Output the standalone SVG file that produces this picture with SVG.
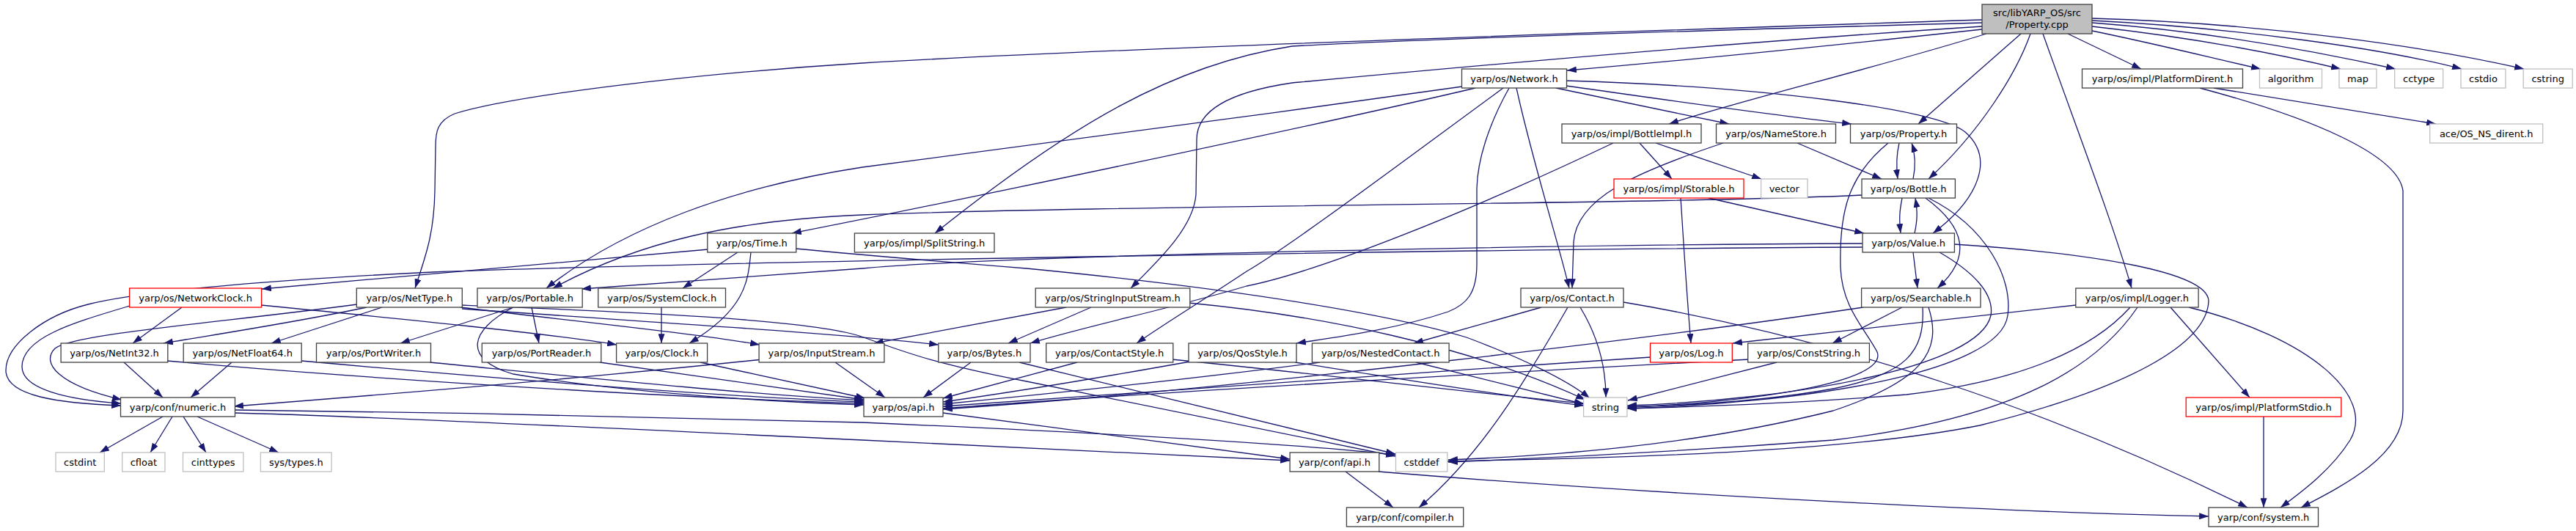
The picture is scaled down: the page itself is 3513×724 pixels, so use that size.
<svg xmlns="http://www.w3.org/2000/svg" width="3513" height="724" viewBox="0 0 3513 724">
<style>
rect{fill:#fff;stroke:#404040;stroke-width:1.3}
.r rect{stroke:#ff0000}
.g rect{stroke:#bfbfbf}
.root rect{fill:#bfbfbf}
text{font-family:"DejaVu Sans","Liberation Sans",sans-serif;font-size:13px;text-anchor:middle;fill:#000}
#edges path{fill:none;stroke:#191970;stroke-width:1.3;marker-end:url(#a)}
</style>
<defs>
<marker id="a" viewBox="0 0 10 7" refX="10" refY="3.5" markerWidth="13" markerHeight="9" markerUnits="userSpaceOnUse" orient="auto"><path d="M0,0 L10,3.5 L0,7 z" fill="#191970"/></marker>
</defs>
<rect x="0" y="0" width="3513" height="724" style="fill:#fff;stroke:none"/>
<g id="edges">
<path d="M2703,27 C2300,40 1500,66 1176,86 C950,100 700,130 620,155 C596,165 594,180 594,200 L593,260 C592,320 580,350 566,393"/>
<path d="M2703,31 C2300,42 1900,55 1762,63 C1600,88 1460,170 1275,318"/>
<path d="M2703,36 C2300,62 1900,100 1762,113 C1680,125 1632,150 1632,190 L1631,265 C1628,310 1580,355 1542,393"/>
<path d="M2703,40 C2500,62 2300,82 2137,96"/>
<path d="M2709,46 C2550,95 2380,135 2276,169"/>
<path d="M2756,46 L2616,169"/>
<path d="M2769,46 C2750,100 2700,180 2630,244"/>
<path d="M2786,46 C2830,170 2880,300 2907,393"/>
<path d="M2820,46 L2920,94"/>
<path d="M2853,42 C2950,62 3020,80 3083,94"/>
<path d="M2853,36 C2980,50 3100,72 3192,94"/>
<path d="M2853,31 C3000,42 3150,68 3267,94"/>
<path d="M2853,28 C3050,38 3250,66 3357,94"/>
<path d="M2853,25 C3100,32 3320,66 3442,94"/>
<path d="M1994,118 C1700,160 1300,212 1176,228 C1000,255 850,310 745,393"/>
<path d="M2012,120 C1800,170 1300,275 1080,318"/>
<path d="M2050,120 C1900,230 1760,335 1700,370 C1640,410 1590,440 1550,468"/>
<path d="M2058,120 C2030,170 2014,220 2014,260 L2014,360 C2014,400 2000,415 1975,425 C1900,450 1820,460 1768,468"/>
<path d="M2068,120 C2090,220 2125,330 2140,393"/>
<path d="M2122,120 L2358,169"/>
<path d="M2136,117 C2250,133 2400,155 2525,169"/>
<path d="M2136,110 C2400,118 2640,148 2680,180 C2720,215 2700,270 2636,318"/>
<path d="M2236,195 L2280,244"/>
<path d="M2258,195 L2402,244"/>
<path d="M2200,195 C2000,290 1800,370 1700,390 C1600,420 1480,445 1405,468"/>
<path d="M2451,195 L2566,244"/>
<path d="M2350,195 C2230,235 2150,270 2146,330 L2144,393"/>
<path d="M2590,195 C2586,212 2586,228 2588,244"/>
<path d="M2575,195 C2520,240 2508,290 2510,365 C2512,420 2545,450 2560,480 C2575,520 2400,548 2219,555"/>
<path d="M2609,244 C2613,225 2612,210 2607,195"/>
<path d="M2594,270 C2590,290 2590,300 2592,318"/>
<path d="M2539,266 C2300,278 1500,280 1176,293 C1000,300 870,330 754,393"/>
<path d="M2626,270 C2680,310 2690,350 2642,393"/>
<path d="M2630,270 C2710,310 2745,380 2738,430 C2728,510 2450,550 2219,557"/>
<path d="M2330,270 L2542,318"/>
<path d="M2292,270 C2296,330 2300,400 2306,468"/>
<path d="M2611,318 C2615,300 2615,288 2612,270"/>
<path d="M2609,344 L2615,393"/>
<path d="M2540,332 C2200,333 1400,346 1176,366 C1000,378 860,388 793,394"/>
<path d="M2540,337 C2000,340 1000,356 590,371 C400,380 200,395 120,415 C60,430 8,470 8,505 C8,540 80,550 165,553"/>
<path d="M2645,344 C2690,370 2720,400 2715,430 C2700,500 2450,545 2219,553"/>
<path d="M2665,333 C2850,345 3010,370 3012,410 C3010,470 2900,530 2700,580 C2500,620 2150,625 1974,629"/>
<path d="M966,340 C800,356 500,380 357,394"/>
<path d="M1006,344 L931,393"/>
<path d="M1024,344 C1020,380 1020,420 940,468"/>
<path d="M1085,339 C1200,350 1300,358 1400,366 C1700,395 1900,430 2000,460 C2080,490 2140,520 2168,543"/>
<path d="M248,419 L181,468"/>
<path d="M177,417 C100,440 30,460 30,500 C30,530 90,545 165,550"/>
<path d="M356,416 C550,435 750,455 841,470"/>
<path d="M487,415 C300,440 100,455 75,475 C55,495 80,525 166,545"/>
<path d="M500,419 C400,440 300,455 223,468"/>
<path d="M521,419 L370,468"/>
<path d="M628,419 C800,440 950,455 1036,470"/>
<path d="M630,421 C900,440 1150,455 1280,470"/>
<path d="M630,416 C850,425 1100,435 1172,458 C1230,478 1260,493 1400,520 C1600,560 1800,600 1903,622"/>
<path d="M700,419 L546,468"/>
<path d="M725,419 L735,468"/>
<path d="M700,419 C640,450 630,490 700,510 C850,535 1050,548 1178,552"/>
<path d="M902,419 L902,468"/>
<path d="M1454,419 L1192,468"/>
<path d="M1488,419 L1375,468"/>
<path d="M1621,413 C1800,430 2000,470 2162,545"/>
<path d="M2102,419 L1928,468"/>
<path d="M2155,419 C2180,460 2190,500 2190,542"/>
<path d="M2138,419 C2080,520 2020,620 1935,692"/>
<path d="M2214,412 C2500,460 2800,560 3065,692"/>
<path d="M2594,419 L2499,468"/>
<path d="M2541,419 C2300,455 1700,530 1286,558"/>
<path d="M2622,419 C2625,480 2600,510 2500,530 C2400,548 2300,553 2219,555"/>
<path d="M2630,419 C2650,480 2620,520 2500,560 C2300,610 2100,622 1975,627"/>
<path d="M2831,416 L2363,468"/>
<path d="M2905,419 C2850,480 2750,520 2600,538 C2450,550 2300,555 2219,557"/>
<path d="M2960,419 L3068,542"/>
<path d="M2985,419 C3150,460 3240,540 3205,600 C3180,640 3140,670 3110,692"/>
<path d="M2915,419 C2860,500 2750,570 2500,600 C2300,615 2100,625 1975,630"/>
<path d="M3019,120 L3322,169"/>
<path d="M3000,120 C3150,160 3270,210 3277,260 L3277,560 C3277,620 3200,660 3138,692"/>
<path d="M169,494 L222,542"/>
<path d="M228,492 C600,525 1000,545 1178,550"/>
<path d="M316,494 L260,542"/>
<path d="M411,492 C700,518 1000,542 1178,548"/>
<path d="M586,494 C800,515 1000,536 1178,546"/>
<path d="M818,494 L1178,545"/>
<path d="M955,494 L1180,543"/>
<path d="M1040,490 C800,515 500,540 319,554"/>
<path d="M1139,494 L1207,542"/>
<path d="M1324,494 L1259,542"/>
<path d="M1390,494 C1600,545 1800,595 1903,619"/>
<path d="M1469,494 L1286,543"/>
<path d="M1598,490 C1800,510 2000,535 2160,550"/>
<path d="M1623,493 C1500,515 1380,535 1286,548"/>
<path d="M1766,494 C1900,515 2050,540 2160,553"/>
<path d="M1800,494 C1600,520 1400,540 1286,551"/>
<path d="M1931,494 L2160,551"/>
<path d="M2251,487 C1900,510 1500,540 1286,554"/>
<path d="M2423,494 L2220,546"/>
<path d="M2386,490 C2000,510 1500,540 1286,557"/>
<path d="M1286,563 C1450,585 1650,610 1759,626"/>
<path d="M222,568 L136,617"/>
<path d="M235,568 L205,617"/>
<path d="M250,568 L281,617"/>
<path d="M269,568 L380,617"/>
<path d="M320,563 C500,567 1000,592 1176,600 C1450,612 1650,622 1759,628"/>
<path d="M320,559 C600,562 1000,570 1176,576 C1450,588 1750,603 1903,620"/>
<path d="M1835,643 L1900,692"/>
<path d="M1880,643 C2300,678 2800,700 3012,704"/>
<path d="M3087,568 L3087,692"/>
</g>
<g id="n_root" class="root"><rect x="2703" y="6" width="150" height="40"/><text x="2778" y="22">src/libYARP_OS/src</text><text x="2778" y="38">/Property.cpp</text></g>
<g id="n_network"><rect x="1993.5" y="94" width="143" height="26"/><text x="2065" y="111.5">yarp/os/Network.h</text></g>
<g id="n_platformdirent"><rect x="2839.5" y="94" width="219" height="26"/><text x="2949" y="111.5">yarp/os/impl/PlatformDirent.h</text></g>
<g id="n_algorithm" class="g"><rect x="3081.5" y="94" width="85" height="26"/><text x="3124" y="111.5">algorithm</text></g>
<g id="n_map" class="g"><rect x="3190" y="94" width="51" height="26"/><text x="3215.5" y="111.5">map</text></g>
<g id="n_cctype" class="g"><rect x="3265.7" y="94" width="66" height="26"/><text x="3298.7" y="111.5">cctype</text></g>
<g id="n_cstdio" class="g"><rect x="3356" y="94" width="61" height="26"/><text x="3386.5" y="111.5">cstdio</text></g>
<g id="n_cstring" class="g"><rect x="3441.2" y="94" width="67" height="26"/><text x="3474.7" y="111.5">cstring</text></g>
<g id="n_bottleimpl"><rect x="2130" y="169" width="190" height="26"/><text x="2225" y="186.5">yarp/os/impl/BottleImpl.h</text></g>
<g id="n_namestore"><rect x="2340.5" y="169" width="163" height="26"/><text x="2422" y="186.5">yarp/os/NameStore.h</text></g>
<g id="n_propertyh"><rect x="2523.5" y="169" width="145" height="26"/><text x="2596" y="186.5">yarp/os/Property.h</text></g>
<g id="n_osnsdirent" class="g"><rect x="3313.7" y="169" width="154" height="26"/><text x="3390.7" y="186.5">ace/OS_NS_dirent.h</text></g>
<g id="n_storable" class="r"><rect x="2201" y="244" width="177" height="26"/><text x="2289.5" y="261.5">yarp/os/impl/Storable.h</text></g>
<g id="n_vector" class="g"><rect x="2401.6" y="244" width="63.4" height="26"/><text x="2433.3" y="261.5">vector</text></g>
<g id="n_bottle"><rect x="2539" y="244" width="127.4" height="26"/><text x="2602.7" y="261.5">yarp/os/Bottle.h</text></g>
<g id="n_time"><rect x="964.8" y="318" width="121" height="26"/><text x="1025.3" y="335.5">yarp/os/Time.h</text></g>
<g id="n_splitstring"><rect x="1165.4" y="318" width="190.6" height="26"/><text x="1260.7" y="335.5">yarp/os/impl/SplitString.h</text></g>
<g id="n_value"><rect x="2540" y="318" width="125.4" height="26"/><text x="2602.7" y="335.5">yarp/os/Value.h</text></g>
<g id="n_networkclock" class="r"><rect x="176.6" y="393" width="180" height="26"/><text x="266.6" y="410.5">yarp/os/NetworkClock.h</text></g>
<g id="n_nettype"><rect x="486.3" y="393" width="144" height="26"/><text x="558.3" y="410.5">yarp/os/NetType.h</text></g>
<g id="n_portable"><rect x="651" y="393" width="143.2" height="26"/><text x="722.6" y="410.5">yarp/os/Portable.h</text></g>
<g id="n_systemclock"><rect x="815.8" y="393" width="173.7" height="26"/><text x="902.7" y="410.5">yarp/os/SystemClock.h</text></g>
<g id="n_stringinputstream"><rect x="1412.2" y="393" width="210.6" height="26"/><text x="1517.5" y="410.5">yarp/os/StringInputStream.h</text></g>
<g id="n_contact"><rect x="2074" y="393" width="140" height="26"/><text x="2144" y="410.5">yarp/os/Contact.h</text></g>
<g id="n_searchable"><rect x="2538.6" y="393" width="162.4" height="26"/><text x="2619.8" y="410.5">yarp/os/Searchable.h</text></g>
<g id="n_logger"><rect x="2830.8" y="393" width="167.3" height="26"/><text x="2914.5" y="410.5">yarp/os/impl/Logger.h</text></g>
<g id="n_netint32"><rect x="83.1" y="468" width="145.7" height="26"/><text x="156" y="485.5">yarp/os/NetInt32.h</text></g>
<g id="n_netfloat64"><rect x="250.2" y="468" width="161" height="26"/><text x="330.7" y="485.5">yarp/os/NetFloat64.h</text></g>
<g id="n_portwriter"><rect x="431.5" y="468" width="156" height="26"/><text x="509.5" y="485.5">yarp/os/PortWriter.h</text></g>
<g id="n_portreader"><rect x="657.3" y="468" width="162.5" height="26"/><text x="738.5" y="485.5">yarp/os/PortReader.h</text></g>
<g id="n_clock"><rect x="840.6" y="468" width="124" height="26"/><text x="902.6" y="485.5">yarp/os/Clock.h</text></g>
<g id="n_inputstream"><rect x="1035.1" y="468" width="170.8" height="26"/><text x="1120.5" y="485.5">yarp/os/InputStream.h</text></g>
<g id="n_bytes"><rect x="1279.8" y="468" width="125.2" height="26"/><text x="1342.4" y="485.5">yarp/os/Bytes.h</text></g>
<g id="n_contactstyle"><rect x="1426.7" y="468" width="173.1" height="26"/><text x="1513.2" y="485.5">yarp/os/ContactStyle.h</text></g>
<g id="n_qosstyle"><rect x="1621" y="468" width="147" height="26"/><text x="1694.5" y="485.5">yarp/os/QosStyle.h</text></g>
<g id="n_nestedcontact"><rect x="1789.4" y="468" width="186.7" height="26"/><text x="1882.7" y="485.5">yarp/os/NestedContact.h</text></g>
<g id="n_log" class="r"><rect x="2250.5" y="468" width="111.8" height="26"/><text x="2306.4" y="485.5">yarp/os/Log.h</text></g>
<g id="n_conststring"><rect x="2383.7" y="468" width="165.7" height="26"/><text x="2466.5" y="485.5">yarp/os/ConstString.h</text></g>
<g id="n_numeric"><rect x="164.5" y="542" width="156" height="26"/><text x="242.5" y="559.5">yarp/conf/numeric.h</text></g>
<g id="n_osapi"><rect x="1178" y="542" width="108" height="26"/><text x="1232" y="559.5">yarp/os/api.h</text></g>
<g id="n_string" class="g"><rect x="2159.6" y="542" width="59.3" height="26"/><text x="2189.3" y="559.5">string</text></g>
<g id="n_platformstdio" class="r"><rect x="2981.2" y="542" width="211.6" height="26"/><text x="3087" y="559.5">yarp/os/impl/PlatformStdio.h</text></g>
<g id="n_cstdint" class="g"><rect x="76" y="617" width="66.3" height="26"/><text x="109.2" y="634.5">cstdint</text></g>
<g id="n_cfloat" class="g"><rect x="166.7" y="617" width="58.3" height="26"/><text x="195.9" y="634.5">cfloat</text></g>
<g id="n_cinttypes" class="g"><rect x="249.5" y="617" width="82.4" height="26"/><text x="290.7" y="634.5">cinttypes</text></g>
<g id="n_systypes" class="g"><rect x="355.4" y="617" width="96.7" height="26"/><text x="403.8" y="634.5">sys/types.h</text></g>
<g id="n_confapi"><rect x="1759.1" y="617" width="121.7" height="26"/><text x="1820" y="634.5">yarp/conf/api.h</text></g>
<g id="n_cstddef" class="g"><rect x="1903.5" y="617" width="70.3" height="26"/><text x="1938.6" y="634.5">cstddef</text></g>
<g id="n_compiler"><rect x="1836.4" y="692" width="159.3" height="26"/><text x="1916" y="709.5">yarp/conf/compiler.h</text></g>
<g id="n_system"><rect x="3012" y="692" width="149.5" height="26"/><text x="3086.7" y="709.5">yarp/conf/system.h</text></g>
</svg>
